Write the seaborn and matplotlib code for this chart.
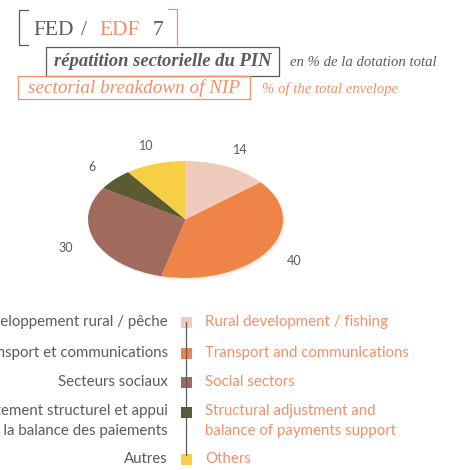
import matplotlib
matplotlib.use("Agg")
import matplotlib.pyplot as plt
import seaborn as sns
from matplotlib.patches import Rectangle
from matplotlib.lines import Line2D

sns.set_theme(style="white")

# data
shares = [14, 40, 30, 6, 10]
labels_fr = ["Développement rural / pêche", "Transport et communications",
             "Secteurs sociaux",
             "Ajustement structurel et appui\nà la balance des paiements",
             "Autres"]
labels_en = ["Rural development / fishing", "Transport and communications",
             "Social sectors",
             "Structural adjustment and\nbalance of payments support",
             "Others"]
colors = ["#efcbbb", "#ee8447", "#a06a5c", "#5c5a30", "#f6cf45"]

GREY = "#5a5a66"
SALMON = "#f0906a"
W, H = 461, 470

fig = plt.figure(figsize=(W / 100, H / 100), dpi=100)
fig.patch.set_facecolor("white")

def px(x, y):
    return x / W, 1 - y / H

# title block
serif = "Liberation Serif"
ty = px(0, 35)[1]
fig.text(px(33, 0)[0], ty, "FED", fontsize=15.5, color=GREY, family=serif, va="baseline")
fig.text(px(81, 0)[0], ty, "/", fontsize=15.5, color=GREY, family=serif, va="baseline")
fig.text(px(99, 0)[0], ty, "EDF", fontsize=15.5, color=SALMON, family=serif, va="baseline")
fig.text(px(153, 0)[0], ty, "7", fontsize=15.5, color=GREY, family=serif, va="baseline")

# brackets
def seg(x0, y0, x1, y1, c):
    a = px(x0, y0); b = px(x1, y1)
    fig.add_artist(Line2D([a[0], b[0]], [a[1], b[1]], color=c, lw=0.9))

seg(19, 10, 19, 45, GREY); seg(19, 10, 28, 10, GREY); seg(19, 45, 28, 45, GREY)
seg(177, 9, 177, 45, SALMON); seg(168, 9, 177, 9, SALMON)

# subtitle boxes
def box(x0, y0, x1, y1, c):
    a = px(x0, y1)
    fig.add_artist(Rectangle(a, (x1 - x0) / W, (y1 - y0) / H, fill=False,
                             edgecolor=c, lw=0.9, transform=fig.transFigure))

box(46, 47, 279, 76, GREY)
fig.text(*px(163, 62), "répatition sectorielle du PIN", fontsize=13.4, color=GREY,
         family=serif, style="italic", weight="bold", ha="center", va="center")
fig.text(*px(290, 63), "en % de la dotation total", fontsize=10.6, color=GREY,
         family=serif, style="italic", ha="left", va="center")

box(18, 76, 250, 99, SALMON)
fig.text(*px(134, 88), "sectorial breakdown of NIP", fontsize=13.8, color=SALMON,
         family=serif, style="italic", ha="center", va="center")
fig.text(*px(262, 89), "% of the total envelope", fontsize=10.6, color=SALMON,
         family=serif, style="italic", ha="left", va="center")

# pie (elliptical)
x0, y0, x1, y1 = 88, 161, 283, 278
ax = fig.add_axes([x0 / W, 1 - y1 / H, (x1 - x0) / W, (y1 - y0) / H])
wedges, texts = ax.pie(shares, colors=colors, startangle=90, counterclock=False,
                       labels=[str(s) for s in shares], labeldistance=1.32,
                       wedgeprops=dict(linewidth=0),
                       shadow=dict(ox=0.012, oy=-0.025, shade=0.1, alpha=0.12),
                       textprops=dict(color=GREY, fontsize=9, family="Lato"))
for t in texts:
    t.set_ha("center"); t.set_va("center")
ax.set_aspect("auto")
ax.set_xlim(-1, 1); ax.set_ylim(-1, 1)
ax.axis("off")

# legend
rows = [322, 353, 382, 412, 459]
seg(186, 322, 186, 455, GREY)
for i, y in enumerate(rows):
    a = px(180.5, y + 5.5)
    fig.add_artist(Rectangle(a, 11 / W, 11 / H, facecolor=colors[i], edgecolor="none",
                             transform=fig.transFigure))
    multi = "\n" in labels_fr[i]
    va = "top" if multi else "center"
    ly = y - 8 if multi else y
    fig.text(*px(168, ly), labels_fr[i], fontsize=10.8, color=GREY, family="Lato",
             ha="right", va=va, linespacing=1.55)
    fig.text(*px(205, ly), labels_en[i], fontsize=10.8, color=SALMON, family="Lato",
             ha="left", va=va, linespacing=1.55)

fig.savefig("out.png", dpi=100, facecolor="white")
